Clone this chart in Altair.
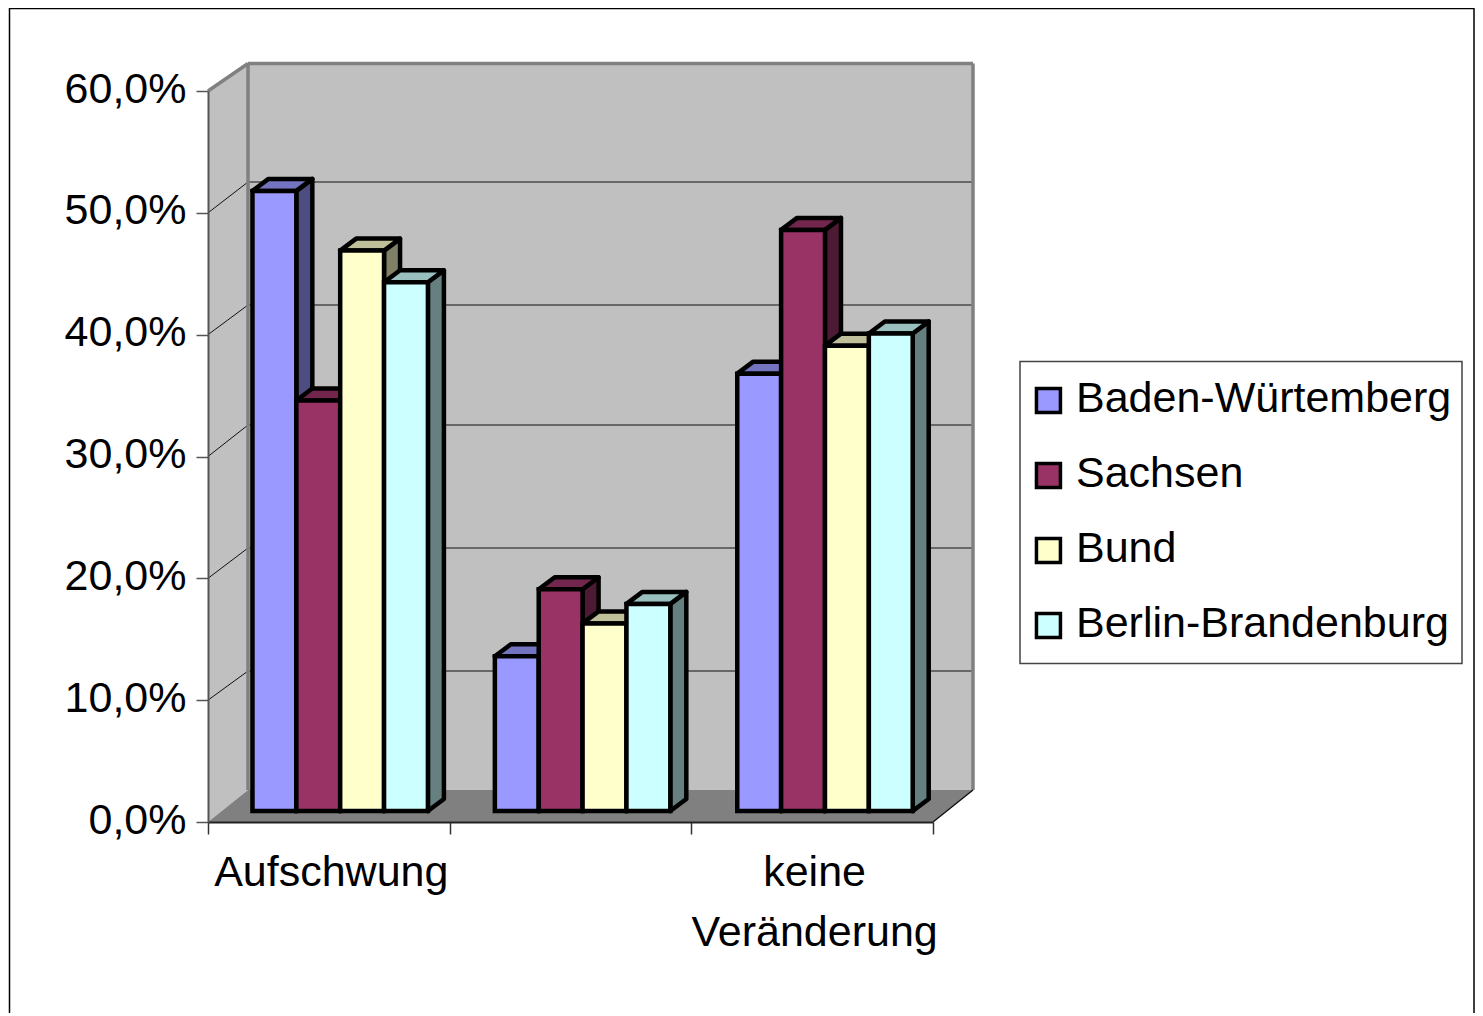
import altair as alt
import pandas as pd

# ---- data -----------------------------------------------------------------
categories = ["Aufschwung", "", "keine\nVeränderung"]
series = ["Baden-Würtemberg", "Sachsen", "Bund", "Berlin-Brandenburg"]
baden = [50.9, 12.7, 35.9]
sachsen = [33.7, 18.2, 47.7]
bund = [46.0, 15.4, 38.2]
berlin = [43.4, 17.0, 39.2]
front_colors = ["#9999FF", "#993366", "#FFFFCC", "#CCFFFF"]
top_colors = ["#7373BF", "#73264D", "#BFBF99", "#99BFBF"]
side_colors = ["#4D4D80", "#4D1A33", "#808066", "#668080"]
back_grid_px = [671, 548, 425, 305, 182]

# ---- geometry --------------------------------------------------------------
PW, PH = 725, 731
UX = PW / 3          # pixels per category
UY = PH / 60         # pixels per percentage point
FONT = "Liberation Sans"
FS = 43


def xp(px):
    return (px - 208) / UX


def yp(py):
    return (822 - py) / UY


xs = alt.Scale(domain=[0, 3], nice=False, zero=False)
ys = alt.Scale(domain=[0, 60], nice=False, zero=False)

AX = alt.Axis(
    values=[0, 1, 2, 3],
    labels=False,
    grid=False,
    tickSize=12,
    tickColor="#333333",
    tickWidth=1.5,
    domainColor="#222222",
    domainWidth=2,
    zindex=1,
)
AY = alt.Axis(
    values=[0, 10, 20, 30, 40, 50, 60],
    labelExpr="replace(format(datum.value, '.1f'), '.', ',') + '%'",
    labelFont=FONT,
    labelFontSize=FS,
    labelColor="black",
    labelPadding=10,
    labelOffset=-2,
    labelOverlap=False,
    labelBound=False,
    labelFlush=False,
    grid=False,
    tickSize=12,
    tickColor="#555555",
    tickWidth=1.5,
    domainColor="#555555",
    domainWidth=2,
    zindex=1,
)


def X(f):
    return alt.X(f"{f}:Q", scale=xs, title=None, axis=AX)


def Y(f):
    return alt.Y(f"{f}:Q", scale=ys, title=None, axis=AY)


BASE = 0.9
BAR_W = 0.1815
BAR_START = 0.184
GROUP_STEP = 1.003
DX = 16 / UX
DY = 12 / UY
WDX = 40 / UX
WDY0 = 32 / UY
WDY60 = 27.5 / UY
BAR_STROKE = 4.5

fronts, sides, tops = [], [], []
for s, (name, vals) in enumerate(zip(series, [baden, sachsen, bund, berlin])):
    for c, v in enumerate(vals):
        x0 = c * GROUP_STEP + BAR_START + s * BAR_W
        x1 = x0 + BAR_W
        y1 = BASE + v
        pid = f"{s}-{c}"
        fronts.append({"series": name, "x0": x0, "x1": x1, "y0": BASE, "y1": y1})
        sides += [
            {"id": pid, "c": side_colors[s], "x": x1, "y": y1, "y2": BASE},
            {"id": pid, "c": side_colors[s], "x": x1 + DX, "y": y1 + DY, "y2": BASE + DY},
        ]
        tops += [
            {"id": pid, "c": top_colors[s], "y": y1, "x": x0, "x2": x1},
            {"id": pid, "c": top_colors[s], "y": y1 + DY, "x": x0 + DX, "x2": x1 + DX},
        ]


def back(v):
    return WDY0 + v * (60 + WDY60 - WDY0) / 60


ticks = [10, 20, 30, 40, 50]
back_df = pd.DataFrame([{"x0": WDX, "x1": 3 + WDX, "y0": back(0), "y1": back(60)}])
frame_df = pd.DataFrame([{"x0": xp(9.5), "x1": xp(1474), "y0": yp(1030), "y1": yp(8.5)}])
legend_box_df = pd.DataFrame(
    [{"x0": xp(1020), "x1": xp(1462), "y0": yp(663.5), "y1": yp(361.5)}]
)
wall_df = pd.DataFrame(
    [{"x": 0, "y": 60, "y2": 0}, {"x": WDX, "y": back(60), "y2": back(0)}]
)
floor_df = pd.DataFrame(
    [{"y": 0, "x": 0, "x2": 3}, {"y": back(0), "x": WDX, "x2": 3 + WDX}]
)
grid_back = pd.DataFrame(
    [{"x": WDX, "x2": 3 + WDX, "y": yp(p), "y2": yp(p)} for p in back_grid_px]
)
grid_side = pd.DataFrame(
    [{"x": 0, "x2": WDX, "y": t, "y2": yp(p)} for t, p in zip(ticks, back_grid_px)]
)
edges = pd.DataFrame(
    [
        {"x": WDX, "x2": 3 + WDX, "y": back(60), "y2": back(60)},
        {"x": WDX, "x2": WDX, "y": back(0), "y2": back(60)},
        {"x": 3 + WDX, "x2": 3 + WDX, "y": back(0), "y2": back(60)},
        {"x": 0, "x2": WDX, "y": 60, "y2": back(60)},
    ]
)
floor_edge = pd.DataFrame([{"x": 3, "x2": 3 + WDX, "y": 0, "y2": back(0)}])
labels_df = pd.DataFrame(
    [{"x": c + 0.5 + 0.01, "y": yp(852), "t": t} for c, t in enumerate(categories) if t]
)

# ---- layers ----------------------------------------------------------------
frame = (
    alt.Chart(frame_df)
    .mark_rect(fill="white", stroke="black", strokeWidth=1.5)
    .encode(x=X("x0"), x2="x1", y=Y("y0"), y2="y1")
)
legend_box = (
    alt.Chart(legend_box_df)
    .mark_rect(fill="white", stroke="#444444", strokeWidth=1.5)
    .encode(x=X("x0"), x2="x1", y=Y("y0"), y2="y1")
)
wall_back = (
    alt.Chart(back_df)
    .mark_rect(fill="#C0C0C0")
    .encode(x=X("x0"), x2="x1", y=Y("y0"), y2="y1")
)
wall_left = (
    alt.Chart(wall_df)
    .mark_area(fill="#C0C0C0")
    .encode(x=X("x"), y=Y("y"), y2="y2")
)
floor = (
    alt.Chart(floor_df)
    .mark_area(fill="#808080", orient="horizontal")
    .encode(y=Y("y"), x=X("x"), x2="x2")
)
g_back = (
    alt.Chart(grid_back)
    .mark_rule(color="#111111", strokeWidth=1)
    .encode(x=X("x"), x2="x2", y=Y("y"), y2="y2")
)
g_side = (
    alt.Chart(grid_side)
    .mark_rule(color="#111111", strokeWidth=1)
    .encode(x=X("x"), x2="x2", y=Y("y"), y2="y2")
)
wall_edges = (
    alt.Chart(edges)
    .mark_rule(color="#808080", strokeWidth=3.5)
    .encode(x=X("x"), x2="x2", y=Y("y"), y2="y2")
)
f_edge = (
    alt.Chart(floor_edge)
    .mark_rule(color="#111111", strokeWidth=1.5)
    .encode(x=X("x"), x2="x2", y=Y("y"), y2="y2")
)

bar_sides = (
    alt.Chart(pd.DataFrame(sides))
    .mark_area(stroke="black", strokeWidth=BAR_STROKE, strokeJoin="round")
    .encode(
        x=X("x"),
        y=Y("y"),
        y2="y2",
        detail="id:N",
        fill=alt.Fill("c:N", scale=None),
    )
)
bar_tops = (
    alt.Chart(pd.DataFrame(tops))
    .mark_area(stroke="black", strokeWidth=BAR_STROKE, strokeJoin="round", orient="horizontal")
    .encode(
        y=Y("y"),
        x=X("x"),
        x2="x2",
        detail="id:N",
        fill=alt.Fill("c:N", scale=None),
    )
)
bar_fronts = (
    alt.Chart(pd.DataFrame(fronts))
    .mark_rect(stroke="black", strokeWidth=BAR_STROKE, strokeJoin="miter", opacity=1)
    .encode(
        x=X("x0"),
        x2="x1",
        y=Y("y0"),
        y2="y1",
        color=alt.Color(
            "series:N",
            scale=alt.Scale(domain=series, range=front_colors),
            sort=series,
            legend=alt.Legend(
                title=None,
                orient="none",
                legendX=1018 - 208,
                legendY=271,
                padding=15,
                symbolType="M-1.64,-0.91H0.54V1.27H-1.64Z",
                symbolSize=484,
                symbolStrokeColor="black",
                symbolStrokeWidth=3.5,
                labelFont=FONT,
                labelFontSize=FS,
                labelColor="black",
                labelOffset=0,
                labelLimit=500,
                rowPadding=31,
            ),
        ),
    )
)
cat_labels = (
    alt.Chart(labels_df)
    .mark_text(
        font=FONT,
        fontSize=FS,
        color="black",
        baseline="top",
        align="center",
        lineBreak="\n",
        lineHeight=60,
    )
    .encode(x=X("x"), y=Y("y"), text="t:N")
)

chart = (
    alt.layer(
        frame,
        legend_box,
        wall_back,
        wall_left,
        floor,
        g_back,
        g_side,
        wall_edges,
        f_edge,
        bar_sides,
        bar_tops,
        bar_fronts,
        cat_labels,
    )
    .properties(
        width=PW,
        height=PH,
        autosize=alt.AutoSizeParams(type="none"),
        padding={"left": 200, "top": 83, "right": 542, "bottom": 191},
    )
    .configure_view(stroke=None)
)

chart.save("out.html", embed_options={"renderer": "svg", "actions": False})
